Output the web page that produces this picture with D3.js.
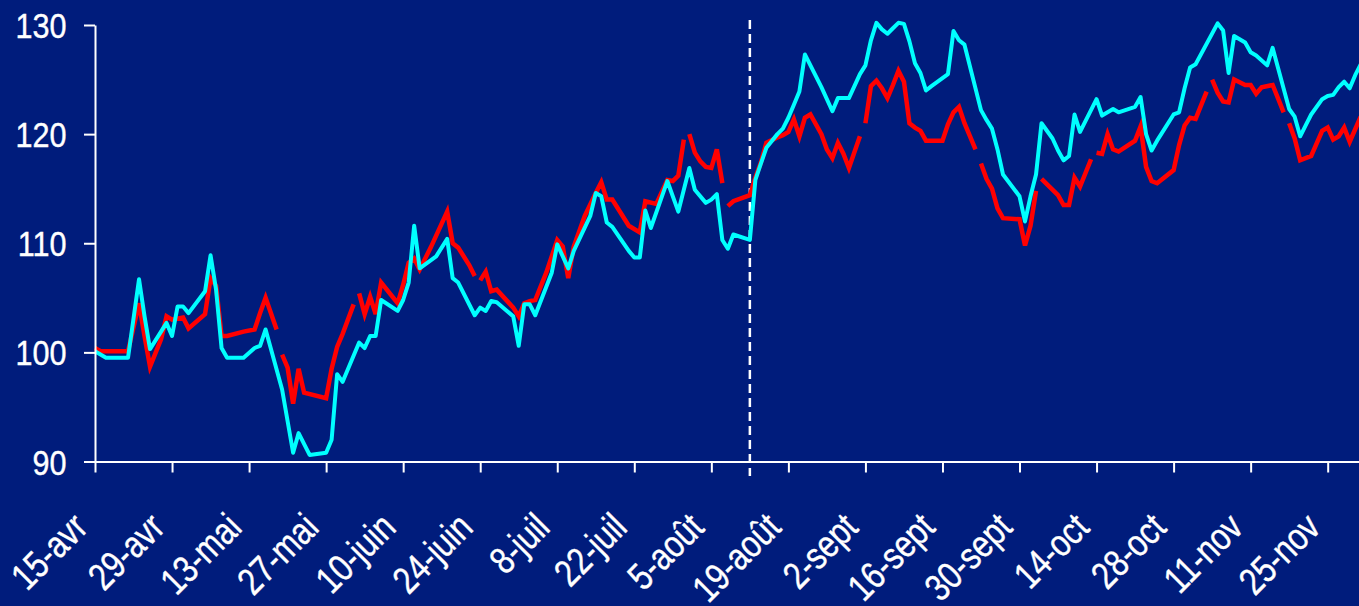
<!DOCTYPE html>
<html>
<head>
<meta charset="utf-8">
<script src="https://cdn.jsdelivr.net/npm/d3@7"></script>
<style>
  html, body { margin: 0; padding: 0; background: #001c7c; overflow: hidden; }
  svg { display: block; }
</style>
</head>
<body>
<svg id="chart"></svg>
<script>
var YEAR = "2003-";

var cyanDates = [
  "04-15","04-17","04-21","04-23","04-24","04-25","04-28","04-29","04-30",
  "05-01","05-02","05-05","05-06","05-07","05-08","05-09","05-12","05-14","05-15","05-16","05-19","05-21","05-22","05-24","05-27","05-28","05-29","05-30",
  "06-02","06-03","06-04","06-05","06-06","06-09","06-10","06-11","06-12","06-13","06-16","06-18","06-19","06-20","06-23","06-24","06-25","06-26","06-27","06-30",
  "07-01","07-02","07-03","07-04","07-07","07-08","07-10","07-11","07-14","07-15","07-16","07-17","07-18","07-21","07-22","07-23","07-24","07-25","07-28","07-30",
  "08-01","08-02","08-04","08-05","08-06","08-07","08-08","08-09","08-12","08-13","08-14","08-15","08-17","08-18","08-19","08-20","08-21","08-22","08-25","08-27","08-28","08-30",
  "09-01","09-02","09-03","09-04","09-05","09-06","09-07","09-08","09-09","09-10","09-11","09-12","09-13","09-14","09-17","09-18","09-19","09-20","09-23","09-24","09-25","09-26","09-27","09-30",
  "10-01","10-02","10-03","10-04","10-06","10-07","10-08","10-09","10-10","10-11","10-14","10-15","10-17","10-18","10-21","10-22","10-23","10-24","10-25","10-28","10-29","10-30","10-31",
  "11-01","11-05","11-06","11-07","11-08","11-10","11-11","11-12","11-14","11-15","11-18","11-19","11-20","11-21","11-22","11-24","11-25","11-26","11-27","11-28","11-29","11-30",
  "12-01"
];

var cyanValues = [
  100.1, 99.5, 99.5, 106.7, 103.3, 100.3, 102.7, 101.5, 104.2,
  104.2, 103.6, 105.6, 108.9, 105.75, 100.4, 99.5, 99.5, 100.4, 100.6, 102.1, 96.6, 90.8, 92.6, 90.6, 90.8, 92.0, 98.0, 97.3,
  100.9, 100.4, 101.5, 101.5, 104.8, 103.8, 104.8, 106.4, 111.6, 107.7, 108.8, 110.4, 106.8, 106.4, 103.4, 104.1, 103.8, 104.7, 104.6, 103.3,
  100.6, 104.4, 104.4, 103.4, 107.3, 109.9, 107.7, 109.3, 112.5, 114.6, 114.3, 111.9, 111.5, 109.3, 108.7, 108.7, 113.0, 111.4, 115.7, 112.9,
  116.9, 114.9, 113.7, 114.0, 114.5, 110.3, 109.5, 110.8, 110.3, 115.8, 117.3, 118.75, 120.0, 120.5, 121.5, 122.7, 123.9, 127.3, 124.3, 122.1, 123.3, 123.3,
  125.5, 126.3, 128.6, 130.2, 129.6, 129.2, 129.7, 130.2, 130.1, 128.5, 126.5, 125.6, 124.0, 124.4, 125.5, 129.45, 128.6, 128.2, 122.2, 121.3, 120.5, 118.6, 116.3, 114.3,
  112.0, 114.3, 116.3, 121.0, 119.6, 118.5, 117.6, 118.0, 121.8, 120.2, 123.2, 121.7, 122.3, 122.0, 122.5, 123.4, 120.0, 118.5, 119.4, 121.8, 122.0, 124.2, 126.1,
  126.4, 130.15, 129.5, 125.6, 129.0, 128.4, 127.5, 127.2, 126.3, 127.9, 122.3, 121.6, 119.8, 120.8, 121.8, 123.2, 123.5, 123.6, 124.3, 124.8, 124.2, 125.4,
  126.4
];

// null = break in the red series
var redDates = [
  "04-15","04-16","04-21","04-23","04-24","04-25","04-27","04-28","04-29",
  "05-01","05-02","05-05","05-06","05-07","05-08","05-09","05-12","05-14","05-15","05-16","05-18",null,"05-19","05-20","05-21","05-22","05-23","05-27","05-28","05-29","05-30",
  "06-01",null,"06-02","06-03","06-04","06-05","06-06","06-09","06-10","06-11","06-12","06-13","06-15","06-18","06-19","06-20","06-22","06-23",null,"06-24","06-25","06-26","06-27","06-30",
  "07-01","07-02","07-03","07-04","07-06","07-08","07-09","07-10","07-11","07-13","07-15","07-16","07-17","07-18","07-21","07-23","07-24","07-26","07-28","07-29","07-30","07-31",null,
  "08-01","08-02","08-03","08-04","08-05","08-06","08-07",null,"08-08","08-09","08-12","08-13","08-14","08-15","08-17","08-18","08-19","08-20","08-21","08-22","08-23","08-25","08-26","08-27","08-28","08-29","08-30",
  "09-01",null,"09-02","09-03","09-04","09-05","09-06","09-07","09-08","09-09","09-10","09-11","09-12","09-13","09-16","09-17","09-18","09-19","09-20","09-22",null,"09-23","09-24","09-25","09-26","09-27","09-30",
  "10-01","10-02","10-03",null,"10-04","10-07","10-08","10-09","10-10","10-11","10-13",null,"10-14","10-15","10-16","10-17","10-18","10-21","10-22","10-23","10-24","10-25","10-28","10-29","10-30","10-31",
  "11-01","11-03",null,"11-04","11-05","11-06","11-07","11-08","11-10","11-11","11-12","11-13","11-15","11-17",null,"11-18","11-19","11-20","11-22","11-24","11-25","11-26","11-27","11-28","11-29",
  "12-01"
];

var redValues = [
  100.4, 100.1, 100.1, 104.5, 101.5, 98.7, 101.2, 103.3, 103.0,
  103.2, 102.2, 103.5, 106.8, 106.1, 101.5, 101.5, 101.9, 102.1, 103.6, 105.0, 102.1, null, 99.8, 98.6, 95.3, 98.5, 96.3, 95.8, 98.5, 100.5, 101.7,
  104.4, null, 105.4, 103.5, 105.1, 103.5, 106.4, 104.5, 106.2, 108.2, 108.6, 107.6, 109.6, 112.9, 110.0, 109.6, 108.0, 107.0, null, 106.6, 107.4, 105.6, 105.75, 104.1,
  103.3, 104.5, 104.7, 104.8, 107.3, 110.3, 109.7, 106.8, 109.7, 112.5, 114.6, 115.6, 114.0, 114.0, 111.6, 111.0, 113.85, 113.6, 115.8, 115.7, 116.2, 119.5, null,
  120.0, 118.3, 117.5, 117.0, 116.9, 118.6, 115.5, null, 113.4, 113.85, 114.4, 116.0, 117.4, 119.2, 119.7, 119.9, 120.2, 121.35, 119.8, 121.5, 121.8, 120.0, 118.6, 117.8, 119.2, 118.2, 116.9,
  119.8, null, 121.0, 124.4, 124.9, 124.2, 123.3, 124.5, 125.8, 124.8, 121.0, 120.6, 120.3, 119.4, 119.4, 120.9, 122.0, 122.5, 121.0, 118.6, null, 117.3, 115.9, 115.0, 113.2, 112.3, 112.2,
  109.8, 111.6, 114.8, null, 115.9, 114.4, 113.5, 113.5, 116.0, 115.2, 117.7, null, 118.3, 118.2, 120.0, 118.6, 118.4, 119.4, 120.7, 117.0, 115.7, 115.5, 116.7, 119.0, 120.8, 121.5,
  121.4, 123.9, null, 125.0, 123.8, 123.0, 122.9, 125.0, 124.5, 124.5, 123.7, 124.3, 124.5, 122.0, null, 121.0, 119.6, 117.6, 118.0, 120.3, 120.6, 119.5, 119.8, 120.6, 119.3,
  121.6
];

var tickDates = ["04-15","04-29","05-13","05-27","06-10","06-24","07-08","07-22","08-05","08-19","09-02","09-16","09-30","10-14","10-28","11-11","11-25"];
var tickLabels = ["15-avr","29-avr","13-mai","27-mai","10-juin","24-juin","8-juil","22-juil","5-août","19-août","2-sept","16-sept","30-sept","14-oct","28-oct","11-nov","25-nov"];
var yTicks = [90, 100, 110, 120, 130];
var xDomain = ["04-15", "12-01"];
var markerDate = "08-12";

var parse = d3.utcParse("%Y-%m-%d");
function toDate(s) {
  return parse(YEAR + s);
}

function series(dates, values) {
  return dates.map(function (d, i) {
    return { date: d ? toDate(d) : null, value: values[i] };
  });
}

var width = 1359,
  height = 606;

var svg = d3.select("#chart").attr("width", width).attr("height", height);

svg.append("rect")
  .attr("width", width)
  .attr("height", height)
  .attr("fill", "#001c7c");

var x = d3.scaleUtc().domain(xDomain.map(toDate)).range([95, 1360.7]);
var y = d3.scaleLinear().domain([90, 130]).range([461.5, 25]);

// vertical dashed marker
svg.append("line")
  .attr("x1", x(toDate(markerDate)))
  .attr("x2", x(toDate(markerDate)))
  .attr("y1", 20)
  .attr("y2", 476)
  .attr("stroke", "#fff")
  .attr("stroke-width", 2.5)
  .attr("stroke-dasharray", "9,5");

var line = d3.line()
  .defined(function (d) { return d.value != null; })
  .x(function (d) { return x(d.date); })
  .y(function (d) { return y(d.value); });

svg.append("path")
  .datum(series(redDates, redValues))
  .attr("fill", "none")
  .attr("stroke", "#ff0000")
  .attr("stroke-width", 4.5)
  .attr("stroke-linejoin", "miter")
  .attr("d", line);

svg.append("path")
  .datum(series(cyanDates, cyanValues))
  .attr("fill", "none")
  .attr("stroke", "#00ffff")
  .attr("stroke-width", 4)
  .attr("stroke-linejoin", "round")
  .attr("d", line);

// axes
var font = "'Liberation Sans', Arial, Helvetica, sans-serif";

var xAxis = svg.append("g")
  .attr("transform", "translate(0," + y(90) + ")")
  .call(
    d3.axisBottom(x)
      .tickValues(tickDates.map(toDate))
      .tickSize(11)
      .tickSizeOuter(0)
      .tickFormat(function (d, i) { return tickLabels[i]; })
  );

xAxis.select(".domain").attr("stroke", "#fff").attr("stroke-width", 2);
xAxis.selectAll(".tick line").attr("stroke", "#fff").attr("stroke-width", 2);
xAxis.selectAll(".tick text")
  .attr("fill", "#fff")
  .attr("stroke", "#fff")
  .attr("stroke-width", 0.4)
  .attr("x", 0)
  .attr("y", 0)
  .attr("dy", null)
  .attr("text-anchor", "end")
  .attr("font-family", font)
  .attr("font-size", 38)
  .attr("transform", "translate(-6,68) rotate(-45) scale(0.82,1)");

var yAxis = svg.append("g")
  .attr("transform", "translate(95,0)")
  .call(d3.axisLeft(y).tickValues(yTicks).tickSize(11).tickSizeOuter(0));

yAxis.select(".domain").attr("stroke", "#fff").attr("stroke-width", 2);
yAxis.selectAll(".tick line").attr("stroke", "#fff").attr("stroke-width", 2);
yAxis.selectAll(".tick text")
  .attr("fill", "#fff")
  .attr("stroke", "#fff")
  .attr("stroke-width", 0.4)
  .attr("x", 0)
  .attr("dy", "0.35em")
  .attr("text-anchor", "end")
  .attr("font-family", font)
  .attr("font-size", 36)
  .attr("transform", "translate(-28.5,0) scale(0.85,1)");
</script>
</body>
</html>
